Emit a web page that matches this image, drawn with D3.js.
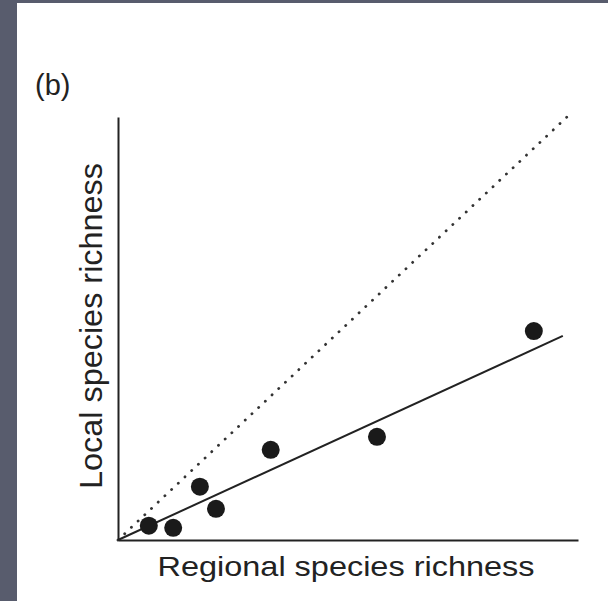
<!DOCTYPE html>
<html>
<head>
<meta charset="utf-8">
<script src="https://cdn.jsdelivr.net/npm/d3@7"></script>
<style>
  html, body { margin: 0; padding: 0; background: #585c6d; }
  svg { display: block; }
</style>
</head>
<body>
<svg id="chart" width="608" height="601"></svg>
<script>
// Regional vs local richness: sites, fitted line and the 1:1 line
const regional = [6.7, 12.0, 17.8, 21.3, 33.2, 56.3, 90.4];
const local    = [3.3, 2.8, 12.3, 7.2, 20.8, 23.8, 48.2];
const fitSlope = 0.487;
const fitEnd = 96.7;
const oneToOneEnd = 97.6;
const xMax = 100, yMax = 97.6;
const panelLabel = "(b)";
const xTitle = "Regional species richness";
const yTitle = "Local species richness";

const svg = d3.select("#chart");
const W = 608, H = 601;

// white figure panel inside the dark frame
svg.append("rect").attr("x", 17).attr("y", 3).attr("width", W - 17).attr("height", H - 3).attr("fill", "#ffffff");

const x = d3.scaleLinear().domain([0, xMax]).range([118, 578]);
const y = d3.scaleLinear().domain([0, yMax]).range([540, 117]);

const ink = "#222222";

// axes without ticks
const gx = svg.append("g").attr("transform", `translate(0,${y(0)})`)
  .call(d3.axisBottom(x).tickValues([]).tickSizeOuter(0));
const gy = svg.append("g").attr("transform", `translate(${x(0)},0)`)
  .call(d3.axisLeft(y).tickValues([]).tickSizeOuter(0));
[gx, gy].forEach(g => g.select(".domain").attr("stroke", ink).attr("stroke-width", 2));

// 1:1 reference line
const line = d3.line().x(d => x(d[0])).y(d => y(d[1]));
svg.append("path")
  .attr("d", line([[0, 0], [oneToOneEnd, oneToOneEnd]]))
  .attr("fill", "none").attr("stroke", "#333").attr("stroke-width", 2.8)
  .attr("stroke-linecap", "round").attr("stroke-dasharray", "0.1 9.1");

// fitted regression line
svg.append("path")
  .attr("d", line([[0, 0], [fitEnd, fitEnd * fitSlope]]))
  .attr("fill", "none").attr("stroke", ink).attr("stroke-width", 2);

// sites
svg.append("g").selectAll("circle")
  .data(regional.map((r, i) => [r, local[i]]))
  .join("circle")
  .attr("cx", d => x(d[0])).attr("cy", d => y(d[1]))
  .attr("r", 9).attr("fill", "#1a1a1a");

const font = "'Liberation Sans', Arial, Helvetica, sans-serif";

svg.append("text")
  .attr("x", 35).attr("y", 95)
  .attr("font-family", font).attr("font-size", 29).attr("fill", ink)
  .text(panelLabel);

svg.append("text")
  .attr("x", 346).attr("y", 576)
  .attr("text-anchor", "middle")
  .attr("font-family", font).attr("font-size", 28).attr("fill", ink)
  .attr("textLength", 377).attr("lengthAdjust", "spacingAndGlyphs")
  .text(xTitle);

svg.append("text")
  .attr("transform", "translate(102,326) rotate(-90)")
  .attr("text-anchor", "middle")
  .attr("font-family", font).attr("font-size", 32).attr("fill", ink)
  .attr("textLength", 326).attr("lengthAdjust", "spacingAndGlyphs")
  .text(yTitle);
</script>
</body>
</html>
